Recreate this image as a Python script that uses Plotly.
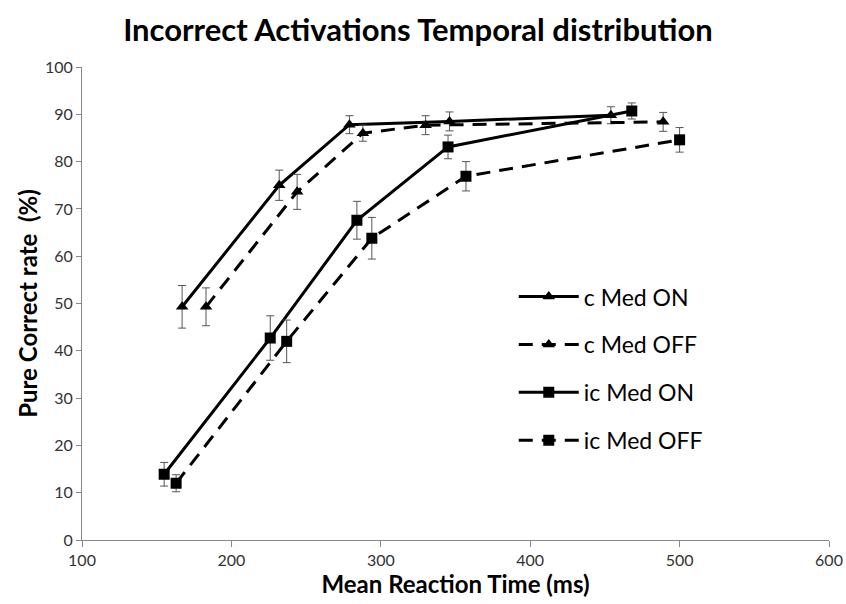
import plotly.graph_objects as go

# Data
c_on_x = [167, 232, 279, 346, 454]
c_on_y = [49.3, 75.0, 87.8, 88.5, 89.8]
c_on_err = [4.5, 3.2, 1.9, 2.0, 1.8]

c_off_x = [183, 244, 288, 330, 489]
c_off_y = [49.3, 73.6, 86.0, 87.7, 88.4]
c_off_err = [4.0, 3.7, 1.7, 2.0, 2.0]

ic_on_x = [155, 226, 284, 345, 468]
ic_on_y = [13.9, 42.7, 67.6, 83.1, 90.7]
ic_on_err = [2.5, 4.7, 4.0, 2.5, 1.7]

ic_off_x = [163, 237, 294, 357, 500]
ic_off_y = [12.0, 42.0, 63.8, 76.9, 84.6]
ic_off_err = [1.8, 4.5, 4.4, 3.1, 2.6]

series = [
    ("c Med ON", c_on_x, c_on_y, c_on_err, "solid", "triangle-up"),
    ("c Med OFF", c_off_x, c_off_y, c_off_err, "dash", "triangle-up"),
    ("ic Med ON", ic_on_x, ic_on_y, ic_on_err, "solid", "square"),
    ("ic Med OFF", ic_off_x, ic_off_y, ic_off_err, "dash", "square"),
]

font_family = "Lato, Open Sans, sans-serif"

fig = go.Figure()
for i, (name, xs, ys, errs, dash, sym) in enumerate(series):
    fig.add_trace(go.Scatter(
        x=xs, y=ys, name=name, mode="lines+markers",
        legendgroup=f"g{i}",
        line=dict(color="black", width=3, dash="solid" if dash == "solid" else "14px,9px"),
        marker=dict(symbol=sym, size=11, color="black"),
        error_y=dict(type="data", array=errs, visible=True,
                     color="#555555", thickness=1, width=4),
    ))

fig.update_layout(
    width=846, height=604,
    paper_bgcolor="white", plot_bgcolor="white",
    margin=dict(l=82, r=17, t=67, b=64, autoexpand=False),
    title=dict(text="<b>Incorrect Activations Temporal distribution</b>",
               x=0.494, xanchor="center", y=0.950, yanchor="middle",
               font=dict(family=font_family, size=31, color="black")),
    showlegend=True,
    legend=dict(x=0.578, y=0.56, xanchor="left", yanchor="top",
                font=dict(family=font_family, size=23, color="black"),
                bgcolor="rgba(0,0,0,0)", tracegroupgap=15, itemwidth=60),
    font=dict(family=font_family),
)
fig.update_xaxes(
    range=[100, 600], dtick=100, tick0=100, automargin=False,
    ticklabeloverflow="allow",
    showgrid=False, zeroline=False,
    showline=True, linecolor="#888888", linewidth=1,
    ticks="outside", ticklen=6, tickcolor="#888888",
    tickfont=dict(family=font_family, size=16, color="#333333"),
    title=dict(text="<b>Mean Reaction Time (ms)</b>",
               font=dict(family=font_family, size=24, color="black"), standoff=0),
)
fig.update_yaxes(
    range=[0, 100], dtick=10, automargin=False,
    ticklabeloverflow="allow",
    showgrid=False, zeroline=False,
    showline=True, linecolor="#888888", linewidth=1,
    ticks="outside", ticklen=5, tickcolor="#888888",
    tickfont=dict(family=font_family, size=16, color="#333333"),
    title=dict(text="<b>Pure Correct rate  (%)</b>",
               font=dict(family=font_family, size=24, color="black"), standoff=0),
)

fig.write_html("out.html", config={"displayModeBar": False},
               post_script="document.body.style.margin='0px';")
